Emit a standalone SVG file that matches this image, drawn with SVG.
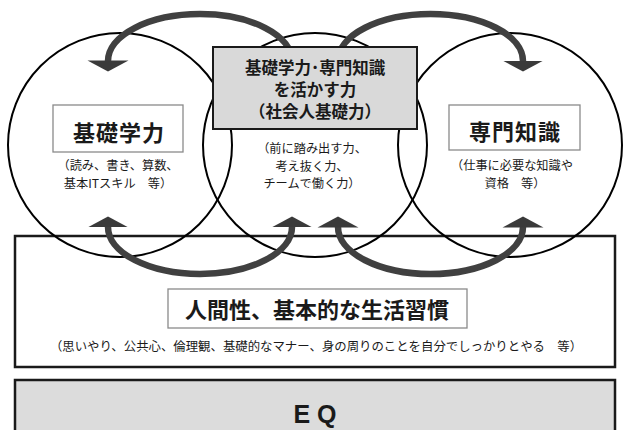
<svg xmlns="http://www.w3.org/2000/svg" width="625" height="430" viewBox="0 0 625 430">
<style>
text{font-family:"Noto Sans CJK JP","Noto Sans",sans-serif;fill:#1a1a1a;text-anchor:middle}
.t{font-weight:bold;font-size:22px}
.m{font-weight:bold;font-size:16.5px}
.s{font-size:12.2px}
.circ{fill:none;stroke:#000;stroke-width:2}
.lbl{fill:#fff;stroke:#8a8a8a;stroke-width:1.3}
.arc{fill:none;stroke:#404040;stroke-width:6.5;marker-end:url(#ah)}
.both{marker-start:url(#ah)}
</style>
<defs>
<marker id="ah" markerUnits="userSpaceOnUse" viewBox="0 -22 12 44" refX="0.5" refY="0" markerWidth="12" markerHeight="44" orient="auto-start-reverse">
<path d="M0,-20.5 L11,0 L0,20.5 Z" fill="#3a3a3a"/>
</marker>
</defs>
<rect width="625" height="430" fill="#fff"/>
<g id="eq">
<rect x="15" y="380" width="600" height="60" fill="#dcdcdc" stroke="#1a1a1a" stroke-width="2.5"/>
<text x="315" y="423" style="font-family:'Liberation Sans',sans-serif;font-weight:bold;font-size:25px">E Q</text>
</g>
<g id="ningensei">
<rect x="15" y="236" width="600" height="131" fill="#fff" stroke="#1a1a1a" stroke-width="2.5"/>
<rect class="lbl" x="168" y="289" width="299" height="39"/>
<text class="t" x="317" y="318">人間性、基本的な生活習慣</text>
<text class="s" x="316" y="351" style="font-size:12.4px">（思いやり、公共心、倫理観、基礎的なマナー、身の周りのことを自分でしっかりとやる　等）</text>
</g>
<g id="circles">
<circle class="circ" cx="120" cy="145" r="112"/>
<circle class="circ" cx="315" cy="145" r="112"/>
<circle class="circ" cx="510" cy="145" r="112"/>
</g>
<g id="connectors">
<path class="arc" d="M292,61 A92,47 0 0 0 108,61"/>
<path class="arc" d="M338,61 A92.5,47 0 0 1 523,61"/>
<path class="arc both" d="M108,227 A92,47 0 0 0 292,227"/>
<path class="arc both" d="M338,227 A92.5,47 0 0 0 523,227"/>
</g>
<g id="kiso">
<rect class="lbl" x="53" y="105" width="130" height="47"/>
<text class="t" x="119" y="141" letter-spacing="1">基礎学力</text>
<text class="s" x="118" y="170">（読み、書き、算数、</text>
<text class="s" x="118" y="188">基本ITスキル　等）</text>
</g>
<g id="shakaijin">
<rect x="213" y="47" width="204" height="82" fill="#d9d9d9" stroke="#1a1a1a" stroke-width="2"/>
<text class="m" x="315" y="74">基礎学力･専門知識</text>
<text class="m" x="315" y="96">を活かす力</text>
<text class="m" x="315" y="118">（社会人基礎力）</text>
<text class="s" x="312" y="153">（前に踏み出す力、</text>
<text class="s" x="312" y="171">考え抜く力、</text>
<text class="s" x="312" y="188">チームで働く力）</text>
</g>
<g id="senmon">
<rect class="lbl" x="449" y="105" width="131" height="45"/>
<text class="t" x="515" y="140" letter-spacing="1">専門知識</text>
<text class="s" x="512" y="170">（仕事に必要な知識や</text>
<text class="s" x="515" y="188">資格　等）</text>
</g>
</svg>
